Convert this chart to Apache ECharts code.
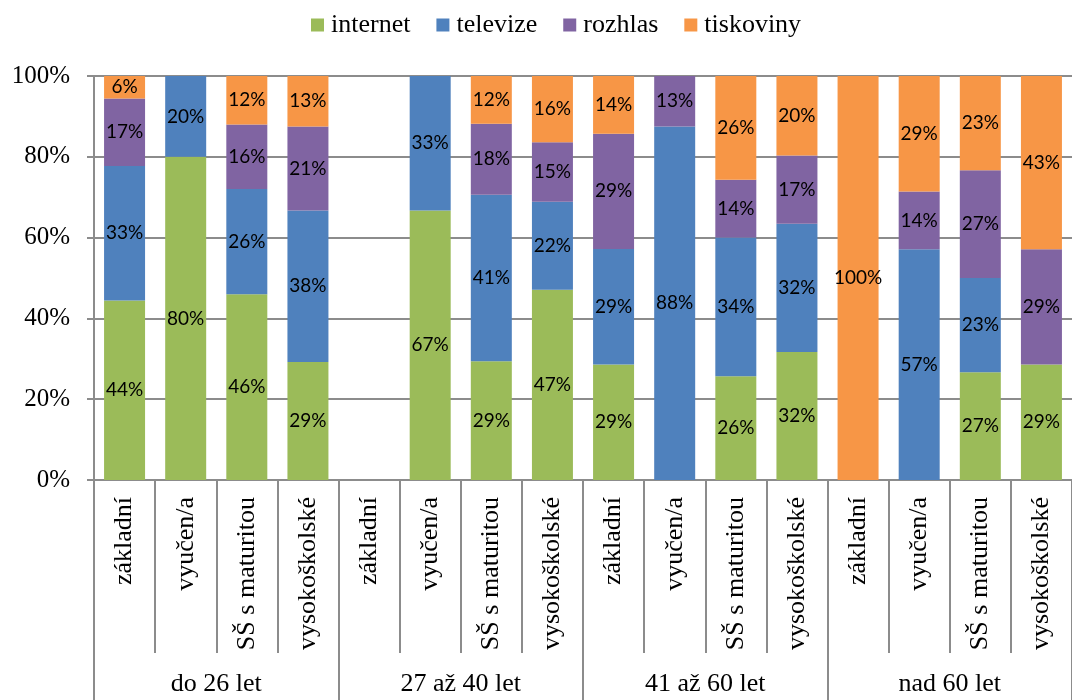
<!DOCTYPE html>
<html>
<head>
<meta charset="utf-8">
<script src="https://cdn.jsdelivr.net/npm/echarts@6/dist/echarts.min.js"></script>
<style>
  html, body { margin: 0; padding: 0; background: #fff; }
  #chart { width: 1072px; height: 700px; }
</style>
</head>
<body>
<div id="chart"></div>
<script>
// kategorie (vzdělání) a věkové skupiny
const categories = [
  'základní', 'vyučen/a', 'SŠ s maturitou', 'vysokoškolské',
  'základní', 'vyučen/a', 'SŠ s maturitou', 'vysokoškolské',
  'základní', 'vyučen/a', 'SŠ s maturitou', 'vysokoškolské',
  'základní', 'vyučen/a', 'SŠ s maturitou', 'vysokoškolské'
];
const groups = ['do 26 let', '27 až 40 let', '41 až 60 let', 'nad 60 let'];
const seriesNames = ['internet', 'televize', 'rozhlas', 'tiskoviny'];

// podíly v %
const internet  = [44.4, 80.0, 46.0, 29.2, 0, 66.7, 29.4, 47.1, 28.6, 0,    25.7, 31.7, 0,     0,    26.7, 28.6];
const televize  = [33.3, 20.0, 26.0, 37.5, 0, 33.3, 41.2, 21.8, 28.6, 87.5, 34.3, 31.7, 0,     57.1, 23.3, 0];
const rozhlas   = [16.7, 0,    16.0, 20.8, 0, 0,    17.6, 14.7, 28.5, 12.5, 14.3, 16.9, 0,     14.3, 26.7, 28.5];
const tiskoviny = [5.6,  0,    12.0, 12.5, 0, 0,    11.8, 16.4, 14.3, 0,    25.7, 19.7, 100.0, 28.6, 23.3, 42.9];

const yTicks = [0, 20, 40, 60, 80, 100];

const colors = ['#9BBB59', '#4F81BD', '#8064A2', '#F79646'];
const values = [internet, televize, rozhlas, tiskoviny];

const serif = '"Liberation Serif", "Times New Roman", serif';
const axisGray = '#8c8c8c';

const chart = echarts.init(document.getElementById('chart'));

const option = {
  animation: false,
  color: colors,
  legend: {
    data: seriesNames,
    top: 12,
    left: 311,
    padding: 0,
    itemWidth: 13,
    itemHeight: 13,
    itemGap: 26,
    icon: 'rect',
    textStyle: { fontFamily: serif, fontSize: 26, color: '#000', padding: [0, 0, 0, 2] }
  },
  grid: {
    left: 94,
    top: 76,
    width: 990,
    height: 404
  },
  xAxis: [
    {
      type: 'category',
      data: categories,
      axisLine: { show: true, lineStyle: { color: axisGray, width: 2 } },
      axisTick: { show: true, interval: 0, length: 173, lineStyle: { color: axisGray, width: 2 } },
      axisLabel: {
        interval: 0,
        rotate: 90,
        margin: 17,
        fontFamily: serif,
        fontSize: 26,
        color: '#000'
      }
    },
    {
      type: 'category',
      data: groups,
      position: 'bottom',
      axisLine: { show: false },
      axisTick: { show: true, interval: 0, length: 225, lineStyle: { color: axisGray, width: 2 } },
      axisLabel: {
        interval: 0,
        margin: 191,
        fontFamily: serif,
        fontSize: 26,
        color: '#000'
      }
    }
  ],
  yAxis: {
    type: 'value',
    min: yTicks[0],
    max: yTicks[yTicks.length - 1],
    interval: 20,
    axisLine: { show: true, lineStyle: { color: axisGray, width: 2 } },
    axisTick: { show: true, length: 7, lineStyle: { color: axisGray, width: 2 } },
    splitLine: { show: true, lineStyle: { color: axisGray, width: 2 } },
    axisLabel: {
      formatter: '{value}%',
      margin: 24,
      fontFamily: serif,
      fontSize: 25,
      color: '#000'
    }
  },
  series: seriesNames.map((name, i) => ({
    name: name,
    type: 'bar',
    stack: 'total',
    barWidth: 41,
    data: values[i],
    label: {
      show: true,
      position: 'inside',
      color: '#000',
      fontFamily: 'Lato, "Open Sans", sans-serif',
      fontSize: 19,
      formatter: p => (p.value > 0.5 ? Math.round(p.value) + '%' : '')
    }
  }))
};

chart.setOption(option);
</script>
</body>
</html>
